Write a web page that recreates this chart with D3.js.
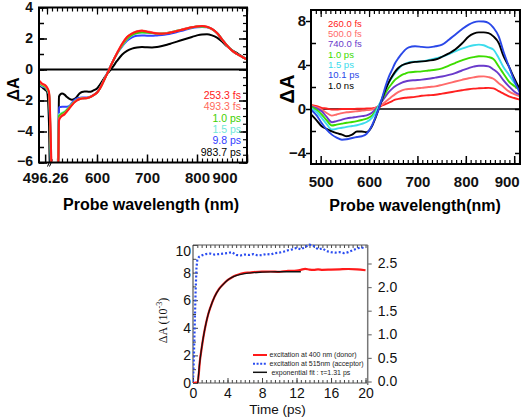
<!DOCTYPE html>
<html><head><meta charset="utf-8">
<script src="https://cdn.jsdelivr.net/npm/d3@7/dist/d3.min.js"></script>
<style>body{margin:0;background:#fff}svg{display:block}</style>
</head><body>
<svg id="c" width="524" height="418"></svg>
<script>
// ---------------- DATA ----------------
// Panel A (top-left): wavelength grid (nm), null = gap (pump scatter)
const wlA = [484,490,496,500,504,506,508,510,512,516,520,522,524,527,530,535,540,545,550,555,560,565,570,575,580,585,590,595,600,605,610,615,620,625,630,640,650,660,670,680,690,700,710,720,730,740,750,760,770,780,790,800,810,820,830,840,850,860,870,880,890,900];
const labelsA = ["253.3 fs","493.3 fs","1.0 ps","1.5 ps","9.8 ps","983.7 ps"];
const a253 = [-0.7,-0.9,-1.0,-1.15,-1.45,-2.6,-5.0,-7,-7,null,-7,-7,-3.3,-3.1,-3.0,-2.9,-2.7,-2.5,-2.3,-2.12,-2.0,-1.92,-1.88,-1.86,-1.85,-1.8,-1.72,-1.62,-1.5,-1.28,-0.98,-0.64,-0.3,0.05,0.4,1.05,1.65,2.1,2.32,2.45,2.5,2.44,2.38,2.32,2.3,2.33,2.4,2.48,2.56,2.65,2.72,2.78,2.8,2.76,2.62,2.36,1.95,1.55,1.22,1.0,0.82,0.65];
const a493 = [-0.75,-0.95,-1.05,-1.2,-1.5,-2.8,-5.5,-7,-7,null,-7,-7,-3.2,-3.05,-2.95,-2.85,-2.68,-2.48,-2.28,-2.1,-1.98,-1.9,-1.86,-1.85,-1.84,-1.79,-1.71,-1.61,-1.49,-1.27,-0.97,-0.63,-0.29,0.06,0.41,1.06,1.63,2.08,2.33,2.47,2.52,2.46,2.4,2.34,2.32,2.35,2.42,2.5,2.58,2.66,2.73,2.79,2.8,2.75,2.6,2.34,1.94,1.54,1.21,0.99,0.81,0.64];
const a1p0 = [-0.8,-1.0,-1.1,-1.25,-1.55,-3.0,-6.0,-7,-7,null,-7,-7,-3.0,-2.92,-2.85,-2.76,-2.6,-2.42,-2.25,-2.08,-1.97,-1.9,-1.86,-1.85,-1.84,-1.79,-1.71,-1.61,-1.49,-1.27,-0.97,-0.63,-0.29,0.05,0.4,1.03,1.55,1.98,2.24,2.36,2.4,2.38,2.36,2.33,2.32,2.35,2.42,2.5,2.57,2.65,2.72,2.77,2.78,2.74,2.6,2.35,1.95,1.55,1.22,1.0,0.82,0.65];
const a1p5 = [-0.85,-1.05,-1.12,-1.3,-1.6,-3.2,-6.2,-7,-7,null,-7,-7,-2.9,-2.85,-2.8,-2.72,-2.58,-2.4,-2.22,-2.06,-1.96,-1.89,-1.86,-1.85,-1.84,-1.79,-1.71,-1.61,-1.49,-1.27,-0.97,-0.63,-0.29,0.05,0.4,1.02,1.52,1.95,2.2,2.33,2.37,2.36,2.35,2.33,2.32,2.35,2.42,2.5,2.57,2.65,2.72,2.77,2.78,2.74,2.6,2.35,1.95,1.55,1.22,1.0,0.82,0.65];
const a9p8 = [-0.9,-1.1,-1.15,-1.3,-1.6,-3.3,-6.3,-7,-7,null,-7,-7,-2.45,-2.42,-2.4,-2.4,-2.4,-2.35,-2.15,-1.97,-1.87,-1.83,-1.8,-1.8,-1.8,-1.77,-1.7,-1.6,-1.48,-1.25,-0.95,-0.6,-0.25,0.08,0.42,1.02,1.48,1.85,2.08,2.18,2.2,2.18,2.18,2.2,2.22,2.27,2.34,2.42,2.5,2.6,2.68,2.73,2.75,2.72,2.6,2.35,1.95,1.55,1.22,1.0,0.82,0.65];
const a983 = [-1.0,-1.15,-1.3,-1.42,-3.5,-7,-7,-7,-7,null,-7,-7,-1.75,-1.6,-1.55,-1.62,-1.78,-1.9,-1.95,-1.9,-1.75,-1.55,-1.45,-1.42,-1.42,-1.44,-1.4,-1.32,-1.22,-1.02,-0.78,-0.52,-0.3,-0.1,0.1,0.55,0.95,1.2,1.35,1.42,1.45,1.43,1.42,1.45,1.52,1.6,1.7,1.8,1.9,2.0,2.1,2.2,2.26,2.27,2.2,2.05,1.8,1.5,1.25,1.05,0.85,0.65];
const xTicksA = [496.26,600,700,800,900];
const yTicksA = [-6,-4,-2,0,2,4];

// Panel B (top-right)
const wlB = [480,492,502,512,523,533,544,554,565,575,585,595,606,613,620,627,634,641,648,654,661,668,675,682,695,709,723,737,751,765,778,792,806,816,827,837,847,857,868,878,889,900,912];
const labelsB = ["260.0 fs","500.0 fs","740.0 fs","1.0 ps","1.5 ps","10.1 ps","1.0 ns"];
const b260 = [0.38,0.25,0.1,0.05,-0.05,-0.05,0.0,0.0,0.0,0.02,0.02,0.05,0.05,0.12,0.2,0.32,0.45,0.58,0.72,0.85,0.92,0.98,1.02,1.05,1.1,1.2,1.25,1.3,1.4,1.5,1.6,1.7,1.8,1.85,1.88,1.9,1.92,1.88,1.62,1.4,1.15,1.0,0.85];
const b500 = [0.3,0.15,-0.05,-0.35,-0.6,-0.5,-0.38,-0.3,-0.25,-0.2,-0.15,-0.1,-0.06,0.1,0.25,0.4,0.65,0.9,1.15,1.35,1.55,1.7,1.78,1.82,1.85,1.92,2.0,2.06,2.2,2.35,2.5,2.65,2.8,2.88,2.95,2.97,2.9,2.75,2.35,2.0,1.6,1.35,1.15];
const b740 = [0.24,0.05,-0.2,-0.7,-1.2,-1.1,-0.97,-0.85,-0.78,-0.72,-0.65,-0.58,-0.35,-0.06,0.3,0.7,1.15,1.55,1.85,2.06,2.25,2.4,2.5,2.57,2.62,2.67,2.75,2.85,2.95,3.1,3.27,3.5,3.72,3.85,3.93,3.93,3.87,3.6,3.2,2.6,2.06,1.6,1.3];
const b1p0 = [0.2,-0.1,-0.5,-1.0,-1.5,-1.42,-1.33,-1.25,-1.18,-1.1,-1.0,-0.88,-0.6,-0.2,0.3,0.85,1.45,1.95,2.35,2.67,2.9,3.1,3.22,3.33,3.38,3.42,3.5,3.57,3.7,3.95,4.18,4.42,4.63,4.72,4.79,4.78,4.72,4.55,3.87,3.2,2.5,2.1,1.76];
const b1p5 = [0.08,-0.3,-0.8,-1.35,-1.87,-1.8,-1.7,-1.62,-1.55,-1.48,-1.35,-1.18,-0.8,-0.36,0.3,1.0,1.76,2.4,2.9,3.27,3.65,3.95,4.12,4.24,4.3,4.33,4.45,4.6,4.75,5.0,5.24,5.48,5.7,5.8,5.85,5.8,5.6,5.4,4.63,3.8,3.12,2.4,1.76];
const b10p1 = [-0.06,-0.6,-1.27,-1.85,-2.33,-2.6,-2.79,-2.75,-2.64,-2.55,-2.48,-2.25,-1.5,-0.75,0.0,1.0,2.06,2.95,3.6,4.18,4.65,5.05,5.4,5.6,5.7,5.65,5.6,5.7,5.85,6.3,6.76,7.25,7.67,7.88,7.97,7.95,7.82,7.4,6.6,5.2,3.87,2.6,1.45];
const b1ns = [-0.5,-1.05,-1.57,-1.8,-2.03,-2.2,-2.33,-2.48,-2.33,-2.05,-2.05,-2.1,-1.57,-0.85,0.0,0.9,1.76,2.45,3.0,3.4,3.75,3.98,4.1,4.18,4.28,4.33,4.4,4.5,4.75,5.05,5.4,5.95,6.6,6.85,6.97,6.97,6.9,6.6,6.0,4.8,3.87,2.8,1.76];
const xTicksB = [500,600,700,800,900];
const yTicksB = [-4,0,4,8];

// Panel C (bottom): kinetics
const tRed = [0,0.3,0.55,0.8,1.0,1.25,1.5,1.75,2.0,2.5,3.0,3.5,4.0,4.5,5.0,5.5,6.0,6.5,7.0,8.0,9.0,10.0,10.5,11.0,12.0,12.5,13.0,13.5,14.0,14.5,15.0,16.0,17.0,18.0,19.0,20.0];
const donor = [0,0.03,0.05,1.6,2.5,3.5,4.3,4.95,5.45,6.25,6.8,7.15,7.45,7.65,7.8,7.92,7.98,8.0,8.03,8.07,8.08,8.05,8.1,8.12,8.15,8.2,8.27,8.22,8.2,8.24,8.2,8.22,8.24,8.26,8.24,8.17];
const tFit = [0.55,0.8,1.0,1.25,1.5,1.75,2.0,2.5,3.0,3.5,4.0,4.5,5.0,6.0,7.0,8.0,9.0,10.0,11.0,12.5];
const fit = [0,1.6,2.55,3.5,4.3,4.95,5.45,6.25,6.78,7.15,7.45,7.65,7.78,7.93,8.0,8.03,8.05,8.06,8.06,8.06];
const tBlue = [0,0.1,0.2,0.3,0.4,0.5,0.7,1.0,1.5,2,2.5,3,3.5,4,4.5,5,5.5,6,6.5,7,7.5,8,8.5,9,9.5,10,10.5,11,11.5,12,12.5,13,13.5,14,14.5,15,15.5,16,16.5,17,17.5,18,18.5,19,19.5,20];
const acceptor = [0,0.5,1.2,1.9,2.4,2.58,2.64,2.67,2.70,2.71,2.69,2.70,2.71,2.72,2.74,2.68,2.67,2.69,2.68,2.70,2.67,2.68,2.70,2.69,2.72,2.73,2.75,2.78,2.80,2.83,2.80,2.85,2.90,2.87,2.80,2.82,2.76,2.74,2.73,2.74,2.72,2.74,2.78,2.82,2.84,2.82];
const legendC = ["excitation at 400 nm (donor)","excitation at 515nm (acceptor)"," exponential fit : \u03c4=1.31 ps"];
const xTicksC = [0,4,8,12,16,20];
const yTicksCL = [0,2,4,6,8,10];
const yTicksCR = [0,0.5,1.0,1.5,2.0,2.5];

// ---------------- STYLE ----------------
const colorsA = ["#ff1a1a","#ff6a5a","#3fcf00","#70e8d8","#3340ff","#000000"];
const colorsB = ["#ff2020","#ff6a6a","#6a3acb","#3ddc00","#3cdcec","#2a48e8","#000000"];
const SANS = "'Liberation Sans', Arial, Helvetica, sans-serif";

const svg = d3.select("#c");
svg.append("rect").attr("width",524).attr("height",418).attr("fill","#fff");
const defs = svg.append("defs");

function styleAxis(g, color, w, fs, fw){
  g.select(".domain").remove();
  g.selectAll("line").attr("stroke",color).attr("stroke-width",w);
  g.selectAll("text").attr("font-family",SANS).attr("font-size",fs).attr("font-weight",fw).attr("fill","#111");
  return g;
}
function minor(g, axis, color, w){
  g.call(axis.tickFormat(""));
  g.select(".domain").remove();
  g.selectAll("line").attr("stroke",color).attr("stroke-width",w);
  g.selectAll("text").remove();
}
function rng(a,b,s){ const r=[]; for(let v=a; v<=b+1e-9; v+=s) r.push(+v.toFixed(4)); return r; }

// ============ PANEL A ============
{
  const L=39,R=247,T=7.5,B=162.5;
  const x = d3.scaleLinear().domain([484,900]).range([L,R]);
  const y = d3.scaleLinear().domain([-6,4]).range([B,T]);
  defs.append("clipPath").attr("id","clipA").append("rect").attr("x",L).attr("y",T).attr("width",R-L).attr("height",B-T);
  const g = svg.append("g");
  minor(g.append("g").attr("transform",`translate(0,${B})`), d3.axisBottom(x).tickValues(rng(520,900,10)).tickSizeInner(-4).tickSizeOuter(0), "#000", 1.2);
  minor(g.append("g").attr("transform",`translate(0,${T})`), d3.axisTop(x).tickValues(rng(490,900,10)).tickSizeInner(-4).tickSizeOuter(0), "#000", 1.2);
  minor(g.append("g").attr("transform",`translate(0,${T})`), d3.axisTop(x).tickValues([500,600,700,800,900]).tickSizeInner(-7).tickSizeOuter(0), "#000", 1.2);
  minor(g.append("g").attr("transform",`translate(${L},0)`), d3.axisLeft(y).tickValues(rng(-6,4,1)).tickSizeInner(-5).tickSizeOuter(0), "#000", 1.5);
  minor(g.append("g").attr("transform",`translate(${R},0)`), d3.axisRight(y).tickValues(rng(-6,4,0.5)).tickSizeInner(-4).tickSizeOuter(0), "#000", 1.2);
  minor(g.append("g").attr("transform",`translate(${R},0)`), d3.axisRight(y).tickValues(yTicksA).tickSizeInner(-8).tickSizeOuter(0), "#000", 1.5);
  const ax = g.append("g").attr("transform",`translate(0,${B})`)
    .call(d3.axisBottom(x).tickValues(xTicksA).tickFormat(d=>d===496.26?"496.26":d).tickSizeInner(-8).tickSizeOuter(0).tickPadding(10));
  styleAxis(ax,"#000",1.5,15,"bold");
  ax.selectAll("text").filter(d=>d===900).attr("text-anchor","end").attr("x",-10);
  const ay = g.append("g").attr("transform",`translate(${L},0)`)
    .call(d3.axisLeft(y).tickValues(yTicksA).tickSizeInner(-8).tickSizeOuter(0).tickPadding(6));
  styleAxis(ay,"#000",1.5,14,"bold");
  ay.selectAll("text").filter(d=>d===-6).attr("dy","0.2em");
  [505,509].forEach(v=>{
    g.append("line").attr("x1",x(v)-2).attr("y1",B+4).attr("x2",x(v)+1).attr("y2",B-3).attr("stroke","#000").attr("stroke-width",1);
  });
  g.append("line").attr("x1",L).attr("x2",R).attr("y1",y(0)).attr("y2",y(0)).attr("stroke","#000").attr("stroke-width",2);
  const sA = [a253,a493,a1p0,a1p5,a9p8,a983];
  const line = d3.line().defined(d=>d[1]!=null).x(d=>x(d[0])).y(d=>y(d[1])).curve(d3.curveMonotoneX);
  const cg = g.append("g").attr("clip-path","url(#clipA)");
  for(let i=sA.length-1;i>=0;i--){
    cg.append("path").datum(wlA.map((w,j)=>[w,sA[i][j]])).attr("d",line)
      .attr("fill","none").attr("stroke",colorsA[i]).attr("stroke-width",2).attr("stroke-linejoin","round");
  }
  g.append("rect").attr("x",L).attr("y",T).attr("width",R-L).attr("height",B-T).attr("fill","none").attr("stroke","#000").attr("stroke-width",2);
  labelsA.forEach((t,i)=>{
    g.append("text").attr("x",241).attr("y",95+i*11.4+3.7).attr("text-anchor","end")
      .attr("font-family",SANS).attr("font-size",10.5).attr("fill",colorsA[i]).text(t);
  });
  g.append("text").attr("x",151).attr("y",209.5).attr("text-anchor","middle").attr("font-family",SANS)
    .attr("font-size",16).attr("font-weight","bold").text("Probe wavelength (nm)");
  g.append("text").attr("transform","translate(18.5,89) rotate(-90)").attr("text-anchor","middle").attr("font-family",SANS)
    .attr("font-size",16).attr("font-weight","bold").text("\u0394A");
}

// ============ PANEL B ============
{
  const L=311,R=520,T=10,B=164;
  const x = d3.scaleLinear().domain([480,912]).range([L,R]);
  const y = d3.scaleLinear().domain([-5,9]).range([B,T]);
  defs.append("clipPath").attr("id","clipB").append("rect").attr("x",L).attr("y",T).attr("width",R-L).attr("height",B-T);
  const g = svg.append("g");
  minor(g.append("g").attr("transform",`translate(0,${B})`), d3.axisBottom(x).tickValues(rng(490,910,10)).tickSizeInner(-4).tickSizeOuter(0), "#000", 1.2);
  minor(g.append("g").attr("transform",`translate(0,${T})`), d3.axisTop(x).tickValues(rng(490,910,10)).tickSizeInner(-4).tickSizeOuter(0), "#000", 1.2);
  minor(g.append("g").attr("transform",`translate(0,${T})`), d3.axisTop(x).tickValues(xTicksB).tickSizeInner(-7).tickSizeOuter(0), "#000", 1.2);
  minor(g.append("g").attr("transform",`translate(${L},0)`), d3.axisLeft(y).tickValues([-2,2,6]).tickSizeInner(-5).tickSizeOuter(0), "#000", 1.5);
  minor(g.append("g").attr("transform",`translate(${R},0)`), d3.axisRight(y).tickValues(rng(-4,8,2)).tickSizeInner(-5).tickSizeOuter(0), "#000", 1.5);
  const ax = g.append("g").attr("transform",`translate(0,${B})`)
    .call(d3.axisBottom(x).tickValues(xTicksB).tickSizeInner(-8).tickSizeOuter(0).tickPadding(12));
  styleAxis(ax,"#000",1.5,15,"bold");
  ax.selectAll("text").filter(d=>d===900).attr("text-anchor","end").attr("x",5);
  const ay = g.append("g").attr("transform",`translate(${L},0)`)
    .call(d3.axisLeft(y).tickValues(yTicksB).tickSizeInner(5).tickSizeOuter(0).tickPadding(0));
  styleAxis(ay,"#000",1.5,15,"bold");
  ay.selectAll("text").attr("x",-5);
  g.append("line").attr("x1",L).attr("x2",R).attr("y1",y(0)).attr("y2",y(0)).attr("stroke","#000").attr("stroke-width",1.5);
  const sB = [b260,b500,b740,b1p0,b1p5,b1ns,b10p1];
  const cB = [colorsB[0],colorsB[1],colorsB[2],colorsB[3],colorsB[4],colorsB[6],colorsB[5]];
  const line = d3.line().x(d=>x(d[0])).y(d=>y(d[1])).curve(d3.curveMonotoneX);
  const cg = g.append("g").attr("clip-path","url(#clipB)");
  sB.forEach((s,i)=>{
    cg.append("path").datum(wlB.map((w,j)=>[w,s[j]])).attr("d",line)
      .attr("fill","none").attr("stroke",cB[i]).attr("stroke-width",1.9).attr("stroke-linejoin","round");
  });
  g.append("rect").attr("x",L).attr("y",T).attr("width",R-L).attr("height",B-T).attr("fill","none").attr("stroke","#000").attr("stroke-width",2);
  labelsB.forEach((t,i)=>{
    g.append("text").attr("x",328).attr("y",23.5+i*10.3+3.3)
      .attr("font-family",SANS).attr("font-size",9.5).attr("fill",colorsB[i]).text(t);
  });
  g.append("text").attr("x",415).attr("y",210.5).attr("text-anchor","middle").attr("font-family",SANS)
    .attr("font-size",16).attr("font-weight","bold").text("Probe wavelength(nm)");
  g.append("text").attr("transform","translate(293.5,89) rotate(-90)").attr("text-anchor","middle").attr("font-family",SANS)
    .attr("font-size",20).attr("font-weight","bold").text("\u0394A");
}

// ============ PANEL C ============
{
  const L=193,R=367.7,T=245,B=383;
  const x = d3.scaleLinear().domain([0,20.25]).range([L,R]);
  const yL = d3.scaleLinear().domain([0,10]).range([B,T]);
  const yR = d3.scaleLinear().domain([0,2.5]).range([381.5,263.5]);
  defs.append("clipPath").attr("id","clipC").append("rect").attr("x",L).attr("y",T-2).attr("width",R-L).attr("height",B-T+2);
  const g = svg.append("g");
  minor(g.append("g").attr("transform",`translate(0,${B})`), d3.axisBottom(x).tickValues(rng(0.5,20,0.5)).tickSizeInner(-3).tickSizeOuter(0), "#444", 1);
  minor(g.append("g").attr("transform",`translate(0,${T})`), d3.axisTop(x).tickValues(rng(0.5,20,0.5)).tickSizeInner(-3).tickSizeOuter(0), "#444", 1);
  minor(g.append("g").attr("transform",`translate(${L},0)`), d3.axisLeft(yL).tickValues(rng(1,9,2)).tickSizeInner(-3).tickSizeOuter(0), "#444", 1);
  const ax = g.append("g").attr("transform",`translate(0,${B})`)
    .call(d3.axisBottom(x).tickValues(xTicksC).tickSizeInner(-5).tickSizeOuter(0).tickPadding(5));
  styleAxis(ax,"#444",1,14,"normal");
  const ay = g.append("g").attr("transform",`translate(${L},0)`)
    .call(d3.axisLeft(yL).tickValues(yTicksCL).tickSizeInner(-5).tickSizeOuter(0).tickPadding(2));
  styleAxis(ay,"#444",1,14,"normal");
  ay.selectAll("text").filter(d=>d===10).attr("dy","0.72em");
  const ar = g.append("g").attr("transform",`translate(${R},0)`)
    .call(d3.axisRight(yR).tickValues(yTicksCR).tickFormat(d3.format(".1f")).tickSizeInner(4).tickSizeOuter(0).tickPadding(6));
  styleAxis(ar,"#777",1.2,14,"normal");
  g.append("line").attr("x1",L).attr("x2",R).attr("y1",T).attr("y2",T).attr("stroke","#555").attr("stroke-width",1);
  g.append("line").attr("x1",L).attr("x2",R).attr("y1",B).attr("y2",B).attr("stroke","#555").attr("stroke-width",1);
  g.append("line").attr("x1",L).attr("x2",L).attr("y1",T).attr("y2",B).attr("stroke","#333").attr("stroke-width",1);
  g.append("line").attr("x1",R).attr("x2",R).attr("y1",T).attr("y2",B+2).attr("stroke","#777").attr("stroke-width",1.5);
  const cg = g.append("g").attr("clip-path","url(#clipC)");
  cg.append("path").datum(tBlue.map((t,i)=>[t,acceptor[i]]))
    .attr("d",d3.line().x(d=>x(d[0])).y(d=>yR(d[1])))
    .attr("fill","none").attr("stroke","#2a4cf0").attr("stroke-width",2.2).attr("stroke-dasharray","2,2");
  cg.append("path").datum(tRed.map((t,i)=>[t,donor[i]]))
    .attr("d",d3.line().x(d=>x(d[0])).y(d=>yL(d[1])).curve(d3.curveMonotoneX))
    .attr("fill","none").attr("stroke","#ff1a1a").attr("stroke-width",2.2);
  cg.append("path").datum(tFit.map((t,i)=>[t,fit[i]]))
    .attr("d",d3.line().x(d=>x(d[0])).y(d=>yL(d[1])).curve(d3.curveMonotoneX))
    .attr("fill","none").attr("stroke","#111").attr("stroke-width",1.3);
  const ly=[355,363.7,372.3];
  g.append("line").attr("x1",253).attr("x2",267).attr("y1",ly[0]).attr("y2",ly[0]).attr("stroke","#ff1a1a").attr("stroke-width",2);
  g.append("line").attr("x1",253).attr("x2",267).attr("y1",ly[1]).attr("y2",ly[1]).attr("stroke","#2a4cf0").attr("stroke-width",2).attr("stroke-dasharray","2,1.6");
  g.append("line").attr("x1",253).attr("x2",267).attr("y1",ly[2]).attr("y2",ly[2]).attr("stroke","#111").attr("stroke-width",1.5);
  legendC.forEach((t,i)=>{
    g.append("text").attr("x",269.5).attr("y",ly[i]+2.4).attr("font-family",SANS).attr("font-size",7)
      .attr("fill","#222").attr("xml:space","preserve").style("white-space","pre").text(t);
  });
  g.append("text").attr("x",277.5).attr("y",413.5).attr("text-anchor","middle").attr("font-family",SANS)
    .attr("font-size",13.5).attr("fill","#111").text("Time (ps)");
  const yl = g.append("text").attr("transform","translate(167,320.5) rotate(-90)").attr("text-anchor","middle")
    .attr("font-family","'Liberation Serif','Times New Roman',serif").attr("font-size",12).attr("fill","#111");
  yl.append("tspan").text("\u0394A (10");
  yl.append("tspan").attr("font-size",8).attr("dy",-5).text("-3");
  yl.append("tspan").attr("dy",5).text(")");
}
</script>
</body></html>
